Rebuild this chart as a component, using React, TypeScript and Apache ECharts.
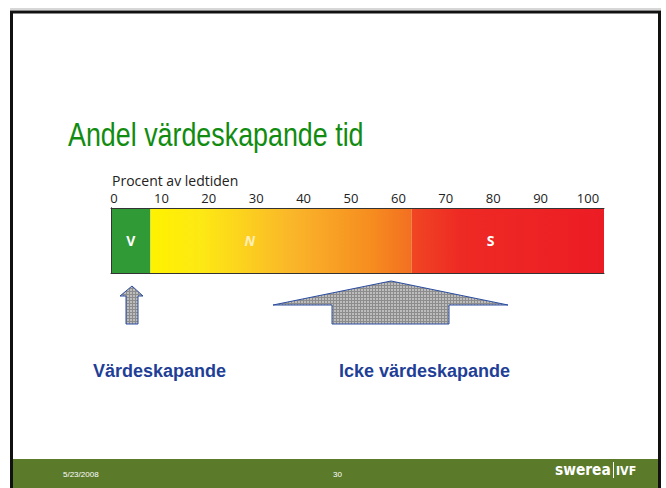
import React, { useEffect, useRef } from "react";
import * as echarts from "echarts";

const categories = ["Ledtid"];
const segmentNames = ["V", "N", "S"];
const segmentValues = [8, 53, 39];
const axisTitle = "Procent av ledtiden";
const slideTitle = "Andel värdeskapande tid";
const arrowLabels = ["Värdeskapande", "Icke värdeskapande"];
const footerDate = "5/23/2008";
const footerPage = "30";

function makeHatch(): string {
  const c = document.createElement("canvas");
  c.width = 3;
  c.height = 3;
  const ctx = c.getContext("2d");
  if (ctx) {
    ctx.fillStyle = "#bdbdbd";
    ctx.fillRect(0, 0, 3, 3);
    ctx.fillStyle = "#8c8c8c";
    ctx.fillRect(0, 0, 3, 1);
    ctx.fillRect(0, 0, 1, 3);
  }
  return c.toDataURL();
}

export default function App() {
  const ref = useRef<HTMLDivElement>(null);
  useEffect(() => {
    document.body.style.margin = "0";
    if (!ref.current) return;
    const chart = echarts.init(ref.current, undefined, { renderer: "svg" });
    const hatch = { image: makeHatch(), repeat: "repeat" } as any;

    const colors: any[] = [
      "#2f9a36",
      new echarts.graphic.LinearGradient(0, 0, 1, 0, [
        { offset: 0, color: "#fff200" },
        { offset: 0.2, color: "#fde814" },
        { offset: 0.55, color: "#fab52a" },
        { offset: 0.85, color: "#f68c1f" },
        { offset: 1, color: "#f36f21" },
      ]),
      new echarts.graphic.LinearGradient(0, 0, 1, 0, [
        { offset: 0, color: "#f04623" },
        { offset: 0.25, color: "#ee2a24" },
        { offset: 1, color: "#ec1c24" },
      ]),
    ];
    const labelPos: any[] = ["50%", "38%", "41%"];
    const labelStyles: any[] = [
      { color: "#ffffff", fontWeight: "bold", fontStyle: "normal" },
      { color: "rgba(255,255,255,0.7)", fontWeight: "bold", fontStyle: "italic" },
      { color: "#ffffff", fontWeight: "bold", fontStyle: "normal" },
    ];

    const frameLine = { show: true, lineStyle: { color: "#333333", width: 1 } };

    chart.setOption({
      animation: false,
      backgroundColor: "#ffffff",
      grid: [
        { left: 111, top: 208, width: 493, height: 65 },
        { left: 114, top: 207, width: 474, height: 66 },
      ],
      xAxis: [
        { gridIndex: 0, type: "value", min: 0, max: 100, position: "bottom", axisLine: frameLine, axisTick: { show: false }, axisLabel: { show: false }, splitLine: { show: false }, z: 10 },
        { gridIndex: 0, type: "value", min: 0, max: 100, position: "top", axisLine: frameLine, axisTick: { show: false }, axisLabel: { show: false }, splitLine: { show: false }, z: 10 },
        {
          gridIndex: 1, type: "value", min: 0, max: 100, interval: 10, position: "top",
          axisLine: { show: false }, axisTick: { show: false }, splitLine: { show: false },
          axisLabel: { color: "#222222", fontSize: 13, lineHeight: 13, fontFamily: "Open Sans", margin: 3 },
        },
      ],
      yAxis: [
        { gridIndex: 0, type: "category", data: categories, position: "left", axisLine: frameLine, axisTick: { show: false }, axisLabel: { show: false }, z: 10 },
        { gridIndex: 0, type: "category", data: categories, position: "right", axisLine: frameLine, axisTick: { show: false }, axisLabel: { show: false }, z: 10 },
        { gridIndex: 1, type: "category", data: categories, show: false },
      ],
      series: segmentNames.map((name, i) => ({
        name,
        type: "bar",
        stack: "total",
        xAxisIndex: 0,
        yAxisIndex: 0,
        barWidth: "100%",
        data: [segmentValues[i]],
        itemStyle: { color: colors[i] },
        label: {
          show: true,
          formatter: "{a}",
          position: [labelPos[i], "50%"],
          align: "center",
          verticalAlign: "middle",
          fontSize: 14,
          fontFamily: "Open Sans",
          ...labelStyles[i],
        },
      })),
      graphic: [
        { type: "rect", shape: { x: 10, y: 8.5, width: 651, height: 1 }, style: { fill: "#b0b0b0" }, z: 1 },
        { type: "rect", shape: { x: 11.5, y: 12, width: 648, height: 500 }, style: { fill: "none", stroke: "#111111", lineWidth: 3 }, z: 1 },
        { type: "rect", shape: { x: 13, y: 459, width: 645, height: 30 }, style: { fill: "#5b7b2b" }, z: 1 },
        {
          type: "text", x: 68, y: 134, scaleX: 0.79,
          style: { text: slideTitle, fill: "#118c11", font: "34px 'Liberation Sans', Arial, sans-serif", verticalAlign: "middle" },
          z: 5,
        },
        {
          type: "text", x: 112, y: 180,
          style: { text: axisTitle, fill: "#222222", font: "14px 'Open Sans', sans-serif", verticalAlign: "middle", lineHeight: 14 },
          z: 5,
        },
        {
          type: "polygon",
          shape: { points: [[132, 286], [143, 296], [138, 296], [138, 324], [126, 324], [126, 296], [120, 296]] },
          style: { fill: hatch, stroke: "#2b4da0", lineWidth: 1 },
          z: 5,
        },
        {
          type: "polygon",
          shape: { points: [[391, 281], [508, 305], [449, 305], [449, 324], [332, 324], [332, 305], [273, 305]] },
          style: { fill: hatch, stroke: "#2b4da0", lineWidth: 1 },
          z: 5,
        },
        {
          type: "text", x: 93, y: 371,
          style: { text: arrowLabels[0], fill: "#1f3f97", font: "bold 18px 'Liberation Sans', Arial, sans-serif", verticalAlign: "middle" },
          z: 5,
        },
        {
          type: "text", x: 339, y: 371,
          style: { text: arrowLabels[1], fill: "#1f3f97", font: "bold 18px 'Liberation Sans', Arial, sans-serif", verticalAlign: "middle" },
          z: 5,
        },
        {
          type: "text", x: 63, y: 474,
          style: { text: footerDate, fill: "#ffffff", font: "8px 'Liberation Sans', Arial, sans-serif", verticalAlign: "middle" },
          z: 5,
        },
        {
          type: "text", x: 333, y: 474,
          style: { text: footerPage, fill: "#ffffff", font: "8px 'Liberation Sans', Arial, sans-serif", verticalAlign: "middle" },
          z: 5,
        },
        {
          type: "text", x: 555, y: 470, scaleX: 0.92,
          style: { text: "swerea", fill: "#ffffff", font: "bold 15px 'DejaVu Sans', sans-serif", verticalAlign: "middle" },
          z: 5,
        },
        { type: "rect", shape: { x: 613, y: 462, width: 1, height: 16 }, style: { fill: "#ffffff" }, z: 5 },
        {
          type: "text", x: 616, y: 471, scaleX: 0.85,
          style: { text: "IVF", fill: "#ffffff", font: "bold 13px 'DejaVu Sans', sans-serif", verticalAlign: "middle" },
          z: 5,
        },
      ],
    });
    return () => chart.dispose();
  }, []);
  return <div ref={ref} style={{ width: 666, height: 488 }} />;
}
